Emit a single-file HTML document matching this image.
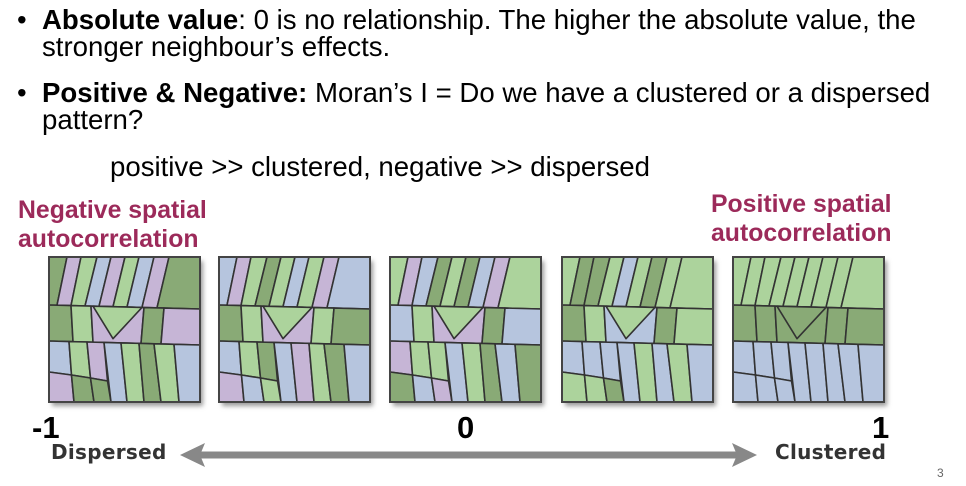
<!DOCTYPE html>
<html><head><meta charset="utf-8"><style>
body{margin:0;width:966px;height:486px;background:#fff;position:relative;overflow:hidden;font-family:"Liberation Sans",Arial,sans-serif}
.t{position:absolute;white-space:nowrap;color:#000;font-size:27.6px;line-height:27px}
.red{position:absolute;white-space:nowrap;color:#9c2a5a;font-weight:bold;font-size:24.8px;line-height:29px}
.big{position:absolute;font-weight:bold;font-size:31px;color:#000}
.lab{position:absolute;font-family:"DejaVu Sans",sans-serif;font-weight:bold;font-size:20px;color:#333;letter-spacing:0.3px}
</style></head><body>
<div class="t" style="left:17px;top:6px">•</div>
<div class="t" style="left:42px;top:6px"><b>Absolute value</b>: 0 is no relationship. The higher the absolute value, the<br>stronger neighbour’s effects.</div>
<div class="t" style="left:17px;top:79px">•</div>
<div class="t" style="left:42px;top:79px"><b>Positive &amp; Negative:</b> Moran’s I = Do we have a clustered or a dispersed<br>pattern?</div>
<div class="t" style="left:110px;top:153px">positive &gt;&gt; clustered, negative &gt;&gt; dispersed</div>
<div class="red" style="left:18px;top:196px">Negative spatial<br>autocorrelation</div>
<div class="red" style="left:711px;top:190px">Positive spatial<br>autocorrelation</div>
<svg id="maps" width="966" height="486" style="position:absolute;left:0;top:0">
<defs><filter id="sh" x="-10%" y="-10%" width="130%" height="130%"><feGaussianBlur stdDeviation="2.5"/></filter></defs>
<line x1="195" y1="455" x2="740" y2="455" stroke="#888" stroke-width="7"/>
<polygon points="180,455 205,443 200,455 205,467" fill="#888"/>
<polygon points="757,455 732,443 737,455 732,467" fill="#888"/>
</svg>
<div class="big" style="left:32px;top:410px">-1</div>
<div class="big" style="left:457px;top:410px">0</div>
<div class="big" style="left:872px;top:410px">1</div>
<div class="lab" style="left:51px;top:440px">Dispersed</div>
<div class="lab" style="left:775px;top:440px">Clustered</div>
<div style="position:absolute;left:937px;top:466px;font-size:12px;color:#666">3</div>
<script>
const panelX=[49,219,390,562,733];
const colorCodes=[
"DPLBPLBPD"+"DLPDP"+"BPLDPDBLDLB"+"L",
"BPLDLBLPB"+"DLPLD"+"BPLBDLBPLDB"+"L",
"LPBDLDBPL"+"BLPDB"+"PDLBLPBLDBD"+"L",
"LDDLBLDLL"+"DLBDL"+"BLBLBDBLBLB"+"L",
"LLLLLLLLL"+"DDDDD"+"BBBBBBBBBBB"+"D"];
const pal={L:"#acd39c",D:"#89aa76",B:"#b6c5de",P:"#c6b5d6"};
const W=151,H=145,Y0=257;
const yTop=x=>48+4*x/W;   // boundary between top band and middle band
const yBot=x=>84+4*x/W;   // boundary between middle and bottom band
const cells=[];
const tt=[0,18,32,48,62,76,90,105,120,151], tb=[0,8,22,36,50,64,78,93,108,151];
for(let i=0;i<9;i++)cells.push([[tt[i],0],[tt[i+1],0],[tb[i+1],yTop(tb[i+1])],[tb[i],yTop(tb[i])]]);
const mt=[0,22,42,95,115,151], mb=[0,24,44,92,112,151];
for(let i=0;i<5;i++)cells.push([[mt[i],yTop(mt[i])],[mt[i+1],yTop(mt[i+1])],[mb[i+1],yBot(mb[i+1])],[mb[i],yBot(mb[i])]]);
const bt=[0,20,38,55,72,90,105,125,151], bb=[0,25,45,62,78,95,112,130,151];
for(let i=0;i<8;i++){
 const a=[bt[i],yBot(bt[i])],b=[bt[i+1],yBot(bt[i+1])],c=[bb[i+1],H],d=[bb[i],H];
 if(i<3){
  const m1=[(bt[i]+bb[i])/2,115+i*3],m2=[(bt[i+1]+bb[i+1])/2,118+i*3];
  cells.push([a,b,m2,m1]);cells.push([m1,m2,c,d]);
 } else cells.push([a,b,c,d]);
}
// central triangle inside middle cell
cells.push([[44,yTop(44)],[93,yTop(93)],[64,yBot(64)-4]]);
const svg=document.getElementById('maps');
const NS="http://www.w3.org/2000/svg";
panelX.forEach((px,p)=>{
 const g=document.createElementNS(NS,'g');
 
 
 const s=document.createElementNS(NS,'rect');
 s.setAttribute('x',px+3);s.setAttribute('y',Y0+4);s.setAttribute('width',W);s.setAttribute('height',H);
 s.setAttribute('fill','#999');s.setAttribute('filter','url(#sh)');g.appendChild(s);
 cells.forEach((c,k)=>{
  const pg=document.createElementNS(NS,'polygon');
  
  
  pg.setAttribute('points',c.map(q=>(px+q[0])+','+(Y0+q[1])).join(' '));
  pg.setAttribute('fill',pal[colorCodes[p][k]]);
  pg.setAttribute('stroke','#333');pg.setAttribute('stroke-width','1.6');pg.setAttribute('stroke-linejoin','round');
  g.appendChild(pg);
 });
 const r=document.createElementNS(NS,'rect');
 r.setAttribute('x',px);r.setAttribute('y',Y0);r.setAttribute('width',W);r.setAttribute('height',H);
 r.setAttribute('fill','none');r.setAttribute('stroke','#444');r.setAttribute('stroke-width','2');
 g.appendChild(r);
 svg.appendChild(g);
});
</script>
</body></html>
